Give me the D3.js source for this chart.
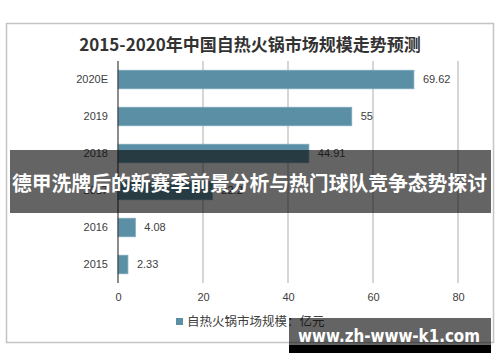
<!DOCTYPE html>
<html>
<head>
<meta charset="utf-8">
<script src="https://cdn.jsdelivr.net/npm/d3@7"></script>
<style>
  body { margin: 0; background: #fff; }
  svg { display: block; }
</style>
</head>
<body>
<svg id="chart" width="500" height="362"></svg>
<script>
// chart data
var categories = ["2020E", "2019", "2018", "2017", "2016", "2015"];
var values = [69.62, 55, 44.91, 22.2, 4.08, 2.33];
var valueLabels = ["69.62", "55", "44.91", "22.2", "4.08", "2.33"];
var xTicks = [0, 20, 40, 60, 80];
var title = "2015-2020年中国自热火锅市场规模走势预测";
var legendLabel = "自热火锅市场规模：亿元";
var bannerText = "德甲洗牌后的新赛季前景分析与热门球队竞争态势探讨";
var watermarkText = "www.zh-www-k1.com";

var svg = d3.select("#chart");
var font = "Arial, 'Liberation Sans', 'Noto Sans CJK SC', sans-serif";
var cjk = "'Noto Sans CJK SC', sans-serif";

// outer frame
svg.append("rect")
    .attr("x", 6.5).attr("y", 23.5)
    .attr("width", 487).attr("height", 319)
    .attr("fill", "#fff")
    .attr("stroke", "#c4c4c4")
    .attr("stroke-width", 1.5);

svg.append("text")
    .attr("x", 250).attr("y", 51)
    .attr("text-anchor", "middle")
    .attr("font-family", cjk)
    .attr("font-weight", "bold")
    .attr("font-size", 17)
    .attr("fill", "#333")
    .text(title);

var x = d3.scaleLinear().domain([0, 80]).range([118, 458]);
var y = d3.scaleBand().domain(categories).range([61, 283]).paddingInner(0.5).paddingOuter(0.25);

// gridlines
svg.append("g")
    .selectAll("line")
    .data(xTicks.slice(1))
    .join("line")
    .attr("x1", function(d){ return x(d); })
    .attr("x2", function(d){ return x(d); })
    .attr("y1", 61).attr("y2", 283)
    .attr("stroke", "#c8c8c8")
    .attr("stroke-width", 1.5);

// bars
svg.append("g")
    .selectAll("rect")
    .data(values)
    .join("rect")
    .attr("x", x(0))
    .attr("y", function(d, i){ return y(categories[i]); })
    .attr("width", function(d){ return x(d) - x(0); })
    .attr("height", y.bandwidth())
    .attr("fill", "#5b8fa6")
    .attr("stroke", "#7aa6bb")
    .attr("stroke-width", 0.8);

// value labels
svg.append("g")
    .selectAll("text")
    .data(values)
    .join("text")
    .attr("x", function(d){ return x(d) + 9; })
    .attr("y", function(d, i){ return y(categories[i]) + y.bandwidth() / 2; })
    .attr("dy", "0.35em")
    .attr("font-family", font)
    .attr("font-size", 11)
    .attr("fill", "#404040")
    .text(function(d, i){ return valueLabels[i]; });

// y axis
var yAxis = svg.append("g")
    .attr("transform", "translate(" + x(0) + ",0)")
    .call(d3.axisLeft(y).tickSize(0).tickPadding(10));
yAxis.select(".domain").attr("stroke", "#404040").attr("stroke-width", 1.2)
    .attr("d", "M0,61V283");
yAxis.selectAll("text")
    .attr("font-family", font)
    .attr("font-size", 11)
    .attr("fill", "#404040");

// x axis labels
var xAxis = svg.append("g")
    .attr("transform", "translate(0,283)")
    .call(d3.axisBottom(x).tickValues(xTicks).tickSize(0).tickPadding(10));
xAxis.select(".domain").remove();
xAxis.selectAll("text")
    .attr("font-family", font)
    .attr("font-size", 11)
    .attr("fill", "#404040");

// legend
svg.append("rect")
    .attr("x", 176).attr("y", 318)
    .attr("width", 7).attr("height", 7)
    .attr("fill", "#5b8fa6");
svg.append("text")
    .attr("x", 187).attr("y", 322)
    .attr("dy", "0.35em")
    .attr("font-family", cjk)
    .attr("font-size", 12.5)
    .attr("fill", "#404040")
    .text(legendLabel);

// banner overlay
svg.append("rect")
    .attr("x", 10).attr("y", 150)
    .attr("width", 481).attr("height", 63)
    .attr("fill", "rgba(10,10,10,0.63)");
svg.append("text")
    .attr("x", 12).attr("y", 184)
    .attr("dy", "0.35em")
    .attr("font-family", cjk)
    .attr("font-weight", "bold")
    .attr("font-size", 20)
    .attr("textLength", 475)
    .attr("lengthAdjust", "spacingAndGlyphs")
    .attr("fill", "#fff")
    .text(bannerText);

// watermark
svg.append("rect")
    .attr("x", 289).attr("y", 318)
    .attr("width", 202).attr("height", 27)
    .attr("fill", "rgba(10,10,10,0.63)");
svg.append("rect")
    .attr("x", 289).attr("y", 345)
    .attr("width", 202).attr("height", 8)
    .attr("fill", "#000");
svg.append("text")
    .attr("x", 298).attr("y", 342)
    .attr("font-family", "'DejaVu Sans', sans-serif")
    .attr("font-weight", "bold")
    .attr("font-size", 17)
    .attr("textLength", 182)
    .attr("lengthAdjust", "spacingAndGlyphs")
    .attr("fill", "#fff")
    .text(watermarkText);
</script>
</body>
</html>
